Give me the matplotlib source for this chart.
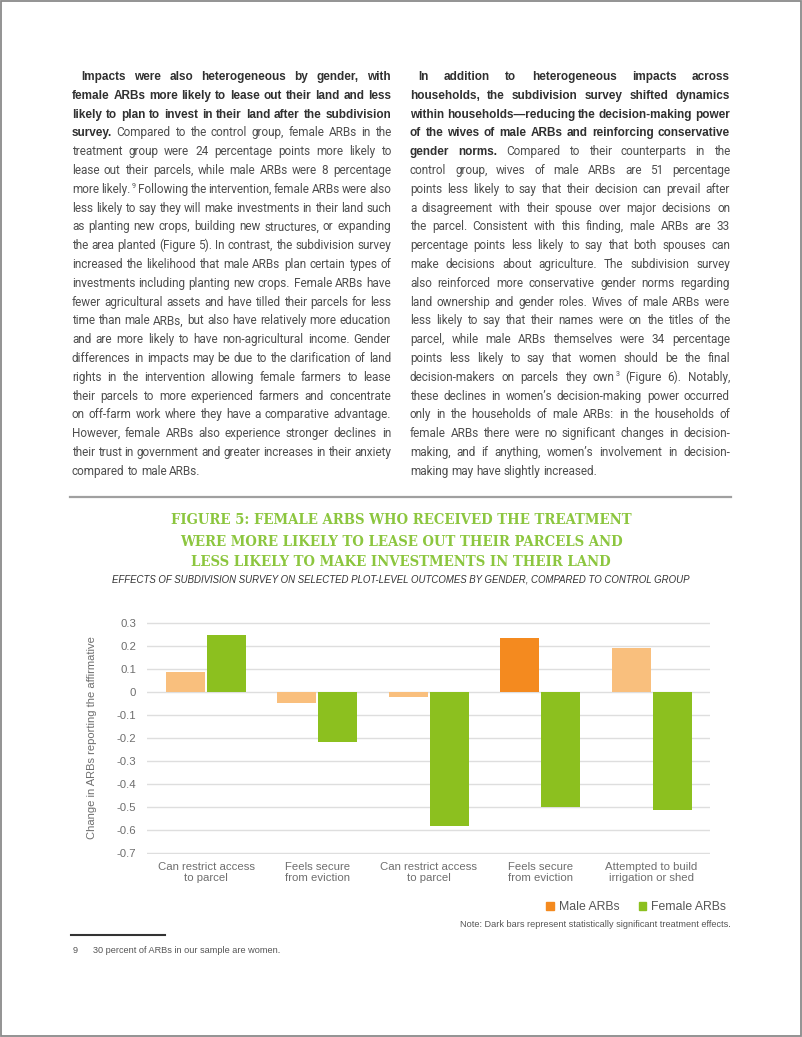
import matplotlib
matplotlib.use("Agg")
import matplotlib.pyplot as plt
from matplotlib.font_manager import FontProperties
from matplotlib.patches import Patch, Rectangle
from matplotlib.lines import Line2D
import numpy as np

W, H = 802, 1037

# ---- chart data ----
categories = ["Can restrict access\nto parcel", "Feels secure\nfrom eviction",
              "Can restrict access\nto parcel", "Feels secure\nfrom eviction",
              "Attempted to build\nirrigation or shed"]
male = [0.087, -0.046, -0.020, 0.236, 0.191]
female = [0.248, -0.217, -0.583, -0.499, -0.513]
male_sig = [False, False, False, True, False]
female_sig = [True, True, True, True, True]
yticks = [0.3, 0.2, 0.1, 0, -0.1, -0.2, -0.3, -0.4, -0.5, -0.6, -0.7]
ytick_labels = ["0.3", "0.2", "0.1", "0", "-0.1", "-0.2", "-0.3", "-0.4", "-0.5", "-0.6", "-0.7"]

title_lines = ["FIGURE 5: FEMALE ARBS WHO RECEIVED THE TREATMENT",
               "WERE MORE LIKELY TO LEASE OUT THEIR PARCELS AND",
               "LESS LIKELY TO MAKE INVESTMENTS IN THEIR LAND"]
subtitle = "EFFECTS OF SUBDIVISION SURVEY ON SELECTED PLOT-LEVEL OUTCOMES BY GENDER, COMPARED TO CONTROL GROUP"

# ---- body text: (bold part, regular part) per line, ^ marks a superscript ----
left_lines = [
    ("Impacts were also heterogeneous by gender, with", ""),
    ("female ARBs more likely to lease out their land and less", ""),
    ("likely to plan to invest in their land after the subdivision", ""),
    ("survey.", "Compared to the control group, female ARBs in the"),
    ("", "treatment group were 24 percentage points more likely to"),
    ("", "lease out their parcels, while male ARBs were 8 percentage"),
    ("", "more likely.^9 Following the intervention, female ARBs were also"),
    ("", "less likely to say they will make investments in their land such"),
    ("", "as planting new crops, building new structures, or expanding"),
    ("", "the area planted (Figure 5). In contrast, the subdivision survey"),
    ("", "increased the likelihood that male ARBs plan certain types of"),
    ("", "investments including planting new crops. Female ARBs have"),
    ("", "fewer agricultural assets and have tilled their parcels for less"),
    ("", "time than male ARBs, but also have relatively more education"),
    ("", "and are more likely to have non-agricultural income. Gender"),
    ("", "differences in impacts may be due to the clarification of land"),
    ("", "rights in the intervention allowing female farmers to lease"),
    ("", "their parcels to more experienced farmers and concentrate"),
    ("", "on off-farm work where they have a comparative advantage."),
    ("", "However, female ARBs also experience stronger declines in"),
    ("", "their trust in government and greater increases in their anxiety"),
    ("", "compared to male ARBs."),
]
right_lines = [
    ("In addition to heterogeneous impacts across", ""),
    ("households, the subdivision survey shifted dynamics", ""),
    ("within households\u2014reducing the decision-making power", ""),
    ("of the wives of male ARBs and reinforcing conservative", ""),
    ("gender norms.", "Compared to their counterparts in the"),
    ("", "control group, wives of male ARBs are 51 percentage"),
    ("", "points less likely to say that their decision can prevail after"),
    ("", "a disagreement with their spouse over major decisions on"),
    ("", "the parcel. Consistent with this finding, male ARBs are 33"),
    ("", "percentage points less likely to say that both spouses can"),
    ("", "make decisions about agriculture. The subdivision survey"),
    ("", "also reinforced more conservative gender norms regarding"),
    ("", "land ownership and gender roles. Wives of male ARBs were"),
    ("", "less likely to say that their names were on the titles of the"),
    ("", "parcel, while male ARBs themselves were 34 percentage"),
    ("", "points less likely to say that women should be the final"),
    ("", "decision-makers on parcels they own^3 (Figure 6). Notably,"),
    ("", "these declines in women\u2019s decision-making power occurred"),
    ("", "only in the households of male ARBs: in the households of"),
    ("", "female ARBs there were no significant changes in decision-"),
    ("", "making, and if anything, women\u2019s involvement in decision-"),
    ("", "making may have slightly increased."),
]
footnote_num = "9"
footnote_text = "30 percent of ARBs in our sample are women."
note_text = "Note: Dark bars represent statistically significant treatment effects."

SANS = "Liberation Sans"
FAMILY = {"normal": "Roboto", "bold": "Liberation Sans"}
COLOR = {"normal": "#4e4e4e", "bold": "#303030"}


def fx(x):
    return x / W


def fy(y):
    return 1 - y / H


fig = plt.figure(figsize=(W / 100, H / 100), dpi=100)
renderer = fig.canvas.get_renderer()


def text_w(s, size, weight):
    fp = FontProperties(family=FAMILY[weight], size=size, weight=weight)
    w, h, d = renderer.get_text_width_height_descent(s, fp, ismath=False)
    return w


def split_words(line):
    bold, reg = line
    return [(w, "bold") for w in bold.split()] + [(w, "normal") for w in reg.split()]


def word_width(word, weight, sizes):
    size = sizes[weight]
    if "^" in word:
        base, sup = word.split("^")
        return text_w(base, size, weight) + text_w(sup, size * 0.6, weight) + 1
    return text_w(word, size, weight)


def put(x, y, s, size, wt):
    fig.text(fx(x), fy(y), s, family=FAMILY[wt], size=size, weight=wt,
             color=COLOR[wt], va="baseline", ha="left")


def draw_column(lines, x0, x1, y0, step, sizes, indent):
    space = text_w("a a", sizes["normal"], "normal") - text_w("aa", sizes["normal"], "normal")
    for i, line in enumerate(lines):
        words = split_words(line)
        start = x0 + (indent if i == 0 else 0)
        widths = [word_width(w, wt, sizes) for w, wt in words]
        last = i == len(lines) - 1
        if last or len(words) < 2:
            gap = space
        else:
            gap = (x1 - start - sum(widths)) / (len(words) - 1)
        y = y0 + i * step
        x = start
        for (w, wt), ww in zip(words, widths):
            size = sizes[wt]
            if "^" in w:
                base, sup = w.split("^")
                put(x, y, base, size, wt)
                put(x + text_w(base, size, wt) + 1, y - size * 0.6, sup, size * 0.6, wt)
            else:
                put(x, y, w, size, wt)
            x += ww + gap


# regular size matched to the width of the short last line in the reference
reg_size = 9.0 * 136.0 / text_w("compared to male ARBs.", 9.0, "normal")


def min_gap(weight, size):
    sizes = {"normal": reg_size, "bold": reg_size}
    sizes[weight] = size
    worst = 99.0
    for lines, x0, x1, ind in [(left_lines, 72, 391, 9), (right_lines, 410, 730, 8)]:
        for i, line in enumerate(lines[:-1]):
            words = split_words(line)
            if not any(wt == weight for _, wt in words):
                continue
            tot = sum(word_width(w, wt, sizes) for w, wt in words)
            avail = x1 - x0 - (ind if i == 0 else 0)
            worst = min(worst, (avail - tot) / (len(words) - 1))
    return worst


while min_gap("normal", reg_size) < 1.9:
    reg_size -= 0.05
bold_size = 9.6
while min_gap("bold", bold_size) < 2.4:
    bold_size -= 0.05
sizes = {"normal": reg_size, "bold": bold_size}

draw_column(left_lines, 72, 391, 80, 18.8, sizes, 9)
draw_column(right_lines, 410, 730, 80, 18.8, sizes, 8)

# page frame and rules
fig.add_artist(Rectangle((0.0008, 0.0008), 0.9984, 0.9984, transform=fig.transFigure,
                         fill=False, edgecolor="#8a8a8a", lw=1.3))
fig.add_artist(Line2D([fx(70), fx(731)], [fy(497), fy(497)], color="#a0a0a0", lw=1.6))
fig.add_artist(Line2D([fx(71), fx(165)], [fy(935), fy(935)], color="#333333", lw=1.5))

# title
for i, t in enumerate(title_lines):
    fig.text(0.5, fy(524.5 + i * 21), t, family="DejaVu Serif", fontstretch="condensed",
             weight="bold", size=10.6, color="#8cc63f", ha="center", va="baseline")
fig.text(0.5, fy(582), subtitle, family=SANS, style="italic", size=6.9,
         color="#333333", ha="center", va="baseline")

# chart
ax_left, ax_right = 147, 710
ax_top, ax_bot = 622, 854
ax = fig.add_axes([fx(ax_left), fy(ax_bot), (ax_right - ax_left) / W, (ax_bot - ax_top) / H])
x = np.arange(len(categories))
bw = 0.35
off = 0.184
male_colors = ["#f48a1f" if s else "#f9bf7d" for s in male_sig]
female_colors = ["#8cc01f" if s else "#c6e08f" for s in female_sig]
ax.bar(x - off, male, width=bw, color=male_colors, zorder=3)
ax.bar(x + off, female, width=bw, color=female_colors, zorder=3)
ax.set_ylim(-0.705, 0.305)
ax.set_xlim(-0.53, 4.525)
ax.set_yticks(yticks)
ax.set_yticklabels(ytick_labels)
ax.set_xticks(x)
ax.set_xticklabels(categories, linespacing=1.1)
ax.yaxis.grid(True, color="#dedede", lw=1.0, zorder=0)
for s in ax.spines.values():
    s.set_visible(False)
ax.tick_params(axis="both", length=0, labelsize=8.2, labelcolor="#6e6e6e")
ax.tick_params(axis="y", pad=8)
ax.tick_params(axis="x", pad=6)
for lab in ax.get_xticklabels() + ax.get_yticklabels():
    lab.set_family(SANS)
ax.set_ylabel("Change in ARBs reporting the affirmative", family=SANS, size=8,
              color="#6e6e6e", labelpad=14)

handles = [Patch(color="#f48a1f", label="Male ARBs"), Patch(color="#8cc01f", label="Female ARBs")]
fig.legend(handles=handles, loc="center right", bbox_to_anchor=(fx(737), fy(907)), ncol=2,
           frameon=False, prop={"family": SANS, "size": 8.8}, labelcolor="#555555",
           handlelength=0.6, handleheight=0.6, handletextpad=0.4, columnspacing=1.6)
fig.text(fx(731), fy(927), note_text, family=SANS, size=6.6, color="#555555",
         ha="right", va="baseline")

fig.text(fx(73), fy(953), footnote_num, family=SANS, size=6.6, color="#555555", va="baseline")
fig.text(fx(93), fy(953), footnote_text, family=SANS, size=6.6, color="#555555", va="baseline")

fig.savefig("out.png", dpi=100, facecolor="white")
